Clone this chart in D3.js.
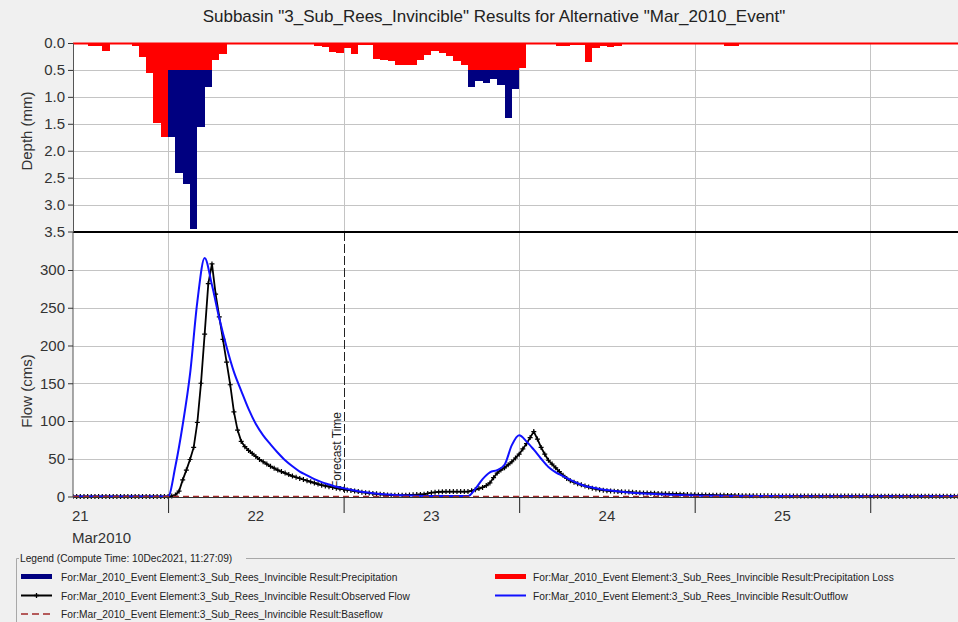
<!DOCTYPE html>
<html><head><meta charset="utf-8">
<script src="https://cdn.jsdelivr.net/npm/d3@7"></script>
<style>
body{margin:0;background:#f0f0f0;}
svg{display:block;}
text{font-family:"Liberation Sans",Arial,sans-serif;}
</style>
</head><body>
<svg id="c" width="958" height="622"></svg>
<script>
// ---------------- DATA ----------------
const startTime = "2010-03-21T11:00:00Z";
const endTime   = "2010-03-26T12:00:00Z";
const forecastTime = "2010-03-23T00:00:00Z";

// Hourly series start at 21 Mar 2010 11:00
// Precipitation (mm per hour, total)
const precipitation = [
  0, 0.02, 0.06, 0.06, 0.14, 0, 0, 0, 0.06, 0.26, 0.56, 1.48, 1.75,
  1.75, 2.42, 2.62, 3.45, 1.56, 0.81, 0.31, 0.2, 0, 0, 0, 0,
  0, 0, 0, 0, 0, 0.01, 0.02, 0.02, 0.06, 0.08, 0.16, 0.18,
  0.09, 0.2, 0.04, 0.04, 0.3, 0.32, 0.34, 0.4, 0.4, 0.4, 0.32, 0.22,
  0.14, 0.18, 0.25, 0.34, 0.41, 0.82, 0.71, 0.74, 0.66, 0.78, 1.39, 0.85,
  0.47, 0.01, 0.01, 0.01, 0.01, 0.05, 0.05, 0.03, 0.03, 0.36, 0.09, 0.05,
  0.08, 0.05, 0.02, 0, 0, 0, 0, 0, 0, 0, 0, 0,
  0, 0, 0, 0, 0.06, 0.06, 0.02, 0.02, 0, 0, 0, 0,
  0, 0, 0, 0, 0, 0, 0, 0, 0, 0, 0, 0,
  0, 0, 0, 0, 0, 0, 0, 0, 0, 0, 0, 0,
  0
];
// Precipitation loss (mm per hour)
const precipLoss = [
  0, 0.02, 0.06, 0.06, 0.14, 0, 0, 0, 0.06, 0.26, 0.56, 1.48, 1.75,
  0.5, 0.5, 0.5, 0.5, 0.5, 0.5, 0.31, 0.2, 0, 0, 0, 0,
  0, 0, 0, 0, 0, 0.01, 0.02, 0.02, 0.06, 0.08, 0.16, 0.18,
  0.09, 0.2, 0.04, 0.04, 0.3, 0.32, 0.34, 0.4, 0.4, 0.4, 0.32, 0.22,
  0.14, 0.18, 0.25, 0.34, 0.41, 0.5, 0.5, 0.5, 0.5, 0.5, 0.5, 0.5,
  0.47, 0.01, 0.01, 0.01, 0.01, 0.05, 0.05, 0.03, 0.03, 0.36, 0.09, 0.05,
  0.08, 0.05, 0.02, 0, 0, 0, 0, 0, 0, 0, 0, 0,
  0, 0, 0, 0, 0.06, 0.06, 0.02, 0.02, 0, 0, 0, 0,
  0, 0, 0, 0, 0, 0, 0, 0, 0, 0, 0, 0,
  0, 0, 0, 0, 0, 0, 0, 0, 0, 0, 0, 0,
  0
];
// Simulated outflow (cms), hourly
const outflow = [
  0, 0, 0, 0, 0, 0, 0, 0, 0, 0, 0, 0, 0,
  0, 40, 95, 162, 258, 316, 280, 236, 198, 165, 140, 116,
  96, 81, 69, 58, 48, 40, 33, 28, 23, 19, 16, 13,
  11, 9, 7, 5.5, 4.2, 3.3, 2.6, 2, 1.6, 1.3, 1, 0.8,
  0.7, 0.6, 0.5, 0.5, 0.5, 0.5, 10, 23, 32, 35, 42, 68,
  81, 73, 62, 50, 39, 32, 27, 22, 17.5, 14, 12, 10,
  8.5, 7.2, 6.2, 5.4, 4.6, 4, 3.5, 3, 2.5, 2.2, 1.9, 1.6,
  1.3, 1.1, 1, 0.9, 0.8, 0.7, 0.7, 0.6, 0.6, 0.5, 0.5, 0.5,
  0.5, 0.5, 0.4, 0.4, 0.4, 0.4, 0.4, 0.4, 0.3, 0.3, 0.3, 0.3,
  0.3, 0.3, 0.3, 0.3, 0.3, 0.3, 0.3, 0.3, 0.3, 0.3, 0.3, 0.3,
  0.3
];
// Observed flow (cms), every 30 minutes from 21 Mar 2010 11:00
const observedFlow = [
  0, 0, 0, 0, 0, 0, 0, 0, 0, 0, 0, 0, 0,
  0, 0, 0, 0, 0, 0, 0, 0, 0, 0, 0, 0, 0,
  0, 0.5, 2, 7, 22, 35, 49, 65, 98, 150, 215, 282,
  308, 268, 238, 208, 178, 148, 112, 88, 73, 66, 61, 57,
  53, 49, 46, 43, 40, 37.5, 35, 33, 31, 29, 27, 25.5,
  24, 22.5, 21, 19.5, 18, 16.5, 15, 14, 13, 12, 11, 10.2,
  9.5, 8.7, 8, 7.2, 6.5, 5.7, 5, 4.5, 4, 3.5, 3, 2.5,
  2, 1.7, 1.5, 1.5, 1.5, 1.7, 2, 2.2, 2.5, 2.8, 3, 4,
  5, 5.6, 6, 6.3, 6.5, 6.5, 6.5, 6.5, 6.5, 6.5, 6.5, 7.5,
  9, 10.5, 12, 14.5, 18, 25, 31, 35, 38, 42, 46, 51,
  56, 63, 70, 78, 86, 76, 65, 56, 48, 43, 38, 33,
  28, 24, 21, 19, 17, 15.5, 14, 12.5, 11, 10, 9, 8.3,
  7.7, 7.3, 7, 6.6, 6.3, 6, 5.8, 5.5, 5.2, 5, 4.8, 4.6,
  4.4, 4.2, 4, 3.8, 3.7, 3.5, 3.3, 3.1, 3, 2.8, 2.6, 2.4,
  2.3, 2.1, 2, 1.9, 1.8, 1.7, 1.6, 1.5, 1.5, 1.4, 1.4, 1.3,
  1.2, 1.1, 1.1, 1, 1, 0.95, 0.9, 0.9, 0.85, 0.85, 0.8, 0.8,
  0.8, 0.75, 0.75, 0.7, 0.7, 0.7, 0.65, 0.65, 0.6, 0.6, 0.6, 0.6,
  0.55, 0.55, 0.55, 0.55, 0.55, 0.55, 0.5, 0.5, 0.5, 0.5, 0.5, 0.5,
  0.45, 0.45, 0.45, 0.45, 0.45, 0.45, 0.4, 0.4, 0.4, 0.4, 0.4, 0.4,
  0.35, 0.35, 0.35, 0.35, 0.35, 0.35, 0.3, 0.3, 0.3, 0.3, 0.3, 0.3,
  0.3
];
// Baseflow (cms) at series start / end
const baseflowTimes = ["2010-03-21T11:00:00Z", "2010-03-26T12:00:00Z"];
const baseflow = [0, 0];

const depthTicks = [0, 0.5, 1.0, 1.5, 2.0, 2.5, 3.0, 3.5];
const flowTicks = [0, 50, 100, 150, 200, 250, 300];
const dayLabels = ["21", "22", "23", "24", "25"];
const monthLabel = "Mar2010";

const titleText = 'Subbasin "3_Sub_Rees_Invincible" Results for Alternative "Mar_2010_Event"';
const legendTitle = "Legend (Compute Time: 10Dec2021, 11:27:09)";
const legendItems = [
  {key:"precip",   label:"For:Mar_2010_Event Element:3_Sub_Rees_Invincible Result:Precipitation"},
  {key:"loss",     label:"For:Mar_2010_Event Element:3_Sub_Rees_Invincible Result:Precipitation Loss"},
  {key:"observed", label:"For:Mar_2010_Event Element:3_Sub_Rees_Invincible Result:Observed Flow"},
  {key:"outflow",  label:"For:Mar_2010_Event Element:3_Sub_Rees_Invincible Result:Outflow"},
  {key:"baseflow", label:"For:Mar_2010_Event Element:3_Sub_Rees_Invincible Result:Baseflow"}
];

// ---------------- STYLE / LAYOUT ----------------
const W = 958, H = 622;
const L = 73, R = 958, TOP = 43, MID = 232, BOT = 497;
const C = {navy:"#000080", red:"#ff0000", blue:"#1010ff", black:"#000000", base:"#a02828", grid:"#c4c4c4", bg:"#f0f0f0"};
const FONT = '"Liberation Sans",Arial,sans-serif';

const svg = d3.select("#c");
svg.append("rect").attr("width", W).attr("height", H).attr("fill", C.bg);

const hour = 3600e3;
const t0 = new Date(startTime);
const times = precipitation.map((_, i) => new Date(t0.getTime() + i * hour));
const obsTimes = observedFlow.map((_, i) => new Date(t0.getTime() + i * hour / 2));

const x = d3.scaleUtc().domain([new Date(startTime), new Date(endTime)]).range([L, R]);
const yD = d3.scaleLinear().domain([0, 3.5]).range([TOP, 231.5]);
const yF = d3.scaleLinear().domain([0, 300]).range([496.5, 270]);

const defs = svg.append("defs");
defs.append("clipPath").attr("id", "clipTop").append("rect").attr("x", L).attr("y", TOP - 2).attr("width", R - L).attr("height", MID - TOP + 2);
defs.append("clipPath").attr("id", "clipBot").append("rect").attr("x", L).attr("y", MID).attr("width", R - L).attr("height", BOT - MID + 3);

svg.append("rect").attr("x", L).attr("y", TOP).attr("width", R - L).attr("height", BOT - TOP).attr("fill", "#ffffff");

const days = d3.utcDay.range(new Date(startTime), new Date(endTime));
const fcT = new Date(forecastTime);

// grid - top panel
const gTop = svg.append("g");
gTop.selectAll(".hg").data(depthTicks.filter(d => d > 0 && d < 3.5)).join("line")
  .attr("x1", L).attr("x2", R).attr("y1", d => Math.round(yD(d)) + 0.5).attr("y2", d => Math.round(yD(d)) + 0.5)
  .attr("stroke", C.grid).attr("stroke-width", 1);
gTop.selectAll(".vg").data(days).join("line")
  .attr("x1", d => Math.round(x(d)) + 0.5).attr("x2", d => Math.round(x(d)) + 0.5).attr("y1", TOP).attr("y2", MID)
  .attr("stroke", C.grid).attr("stroke-width", 1);

// grid - flow panel
const gBot = svg.append("g");
gBot.selectAll(".hg").data(flowTicks.filter(d => d > 0)).join("line")
  .attr("x1", L).attr("x2", R).attr("y1", d => Math.round(yF(d)) + 0.5).attr("y2", d => Math.round(yF(d)) + 0.5)
  .attr("stroke", C.grid).attr("stroke-width", 1);
gBot.selectAll(".vg").data(days.filter(d => +d !== +fcT)).join("line")
  .attr("x1", d => Math.round(x(d)) + 0.5).attr("x2", d => Math.round(x(d)) + 0.5).attr("y1", MID).attr("y2", BOT)
  .attr("stroke", C.grid).attr("stroke-width", 1);

// forecast time line
gBot.append("line")
  .attr("x1", Math.round(x(fcT)) + 0.5).attr("x2", Math.round(x(fcT)) + 0.5).attr("y1", MID).attr("y2", BOT)
  .attr("stroke", "#222").attr("stroke-width", 1).attr("stroke-dasharray", "9,3");
gBot.append("text")
  .attr("transform", `translate(${x(fcT) - 3},488) rotate(-90)`)
  .attr("font-size", 12).attr("fill", "#222").text("Forecast Time");

// bars
const bars = svg.append("g").attr("clip-path", "url(#clipTop)");
const idx = d3.range(precipitation.length);
bars.selectAll(".p").data(idx.filter(i => precipitation[i] > precipLoss[i])).join("rect")
  .attr("x", i => x(times[i])).attr("width", i => x(new Date(times[i].getTime() + hour)) - x(times[i]))
  .attr("y", yD(0)).attr("height", i => yD(precipitation[i]) - yD(0))
  .attr("fill", C.navy).attr("shape-rendering", "crispEdges");
bars.selectAll(".l").data(idx.filter(i => precipLoss[i] > 0)).join("rect")
  .attr("x", i => x(times[i])).attr("width", i => x(new Date(times[i].getTime() + hour)) - x(times[i]))
  .attr("y", yD(0)).attr("height", i => yD(precipLoss[i]) - yD(0))
  .attr("fill", C.red).attr("shape-rendering", "crispEdges");
bars.append("line").attr("x1", L).attr("x2", R).attr("y1", yD(0) + 0.5).attr("y2", yD(0) + 0.5)
  .attr("stroke", C.red).attr("stroke-width", 2);

// flow lines
const lines = svg.append("g").attr("clip-path", "url(#clipBot)");
const obsLine = d3.line().x((d, i) => x(obsTimes[i])).y(d => yF(d));
lines.append("path").datum(observedFlow).attr("d", obsLine)
  .attr("fill", "none").attr("stroke", C.black).attr("stroke-width", 1.8);
lines.selectAll(".mk").data(observedFlow).join("path")
  .attr("transform", (d, i) => `translate(${x(obsTimes[i])},${yF(d)})`)
  .attr("d", "M-2.5,0H2.5M0,-2.5V2.5")
  .attr("stroke", C.black).attr("stroke-width", 1.2).attr("fill", "none");
const outLine = d3.line().x((d, i) => x(times[i])).y(d => yF(d)).curve(d3.curveMonotoneX);
lines.append("path").datum(outflow).attr("d", outLine)
  .attr("fill", "none").attr("stroke", C.blue).attr("stroke-width", 2);
const baseLine = d3.line().x((d, i) => x(new Date(baseflowTimes[i]))).y(d => yF(d));
lines.append("path").datum(baseflow).attr("d", baseLine)
  .attr("fill", "none").attr("stroke", C.base).attr("stroke-width", 1.5).attr("stroke-dasharray", "6,4");

// panel separator
svg.append("line").attr("x1", L).attr("x2", R).attr("y1", MID).attr("y2", MID)
  .attr("stroke", "#000").attr("stroke-width", 2);

// axes
function styleAxis(g) {
  g.selectAll("path.domain").attr("stroke", "#555");
  g.selectAll(".tick line").attr("stroke", "#333");
  g.selectAll(".tick text").attr("font-family", FONT).attr("font-size", 15).attr("fill", "#333");
}
const axD = svg.append("g").attr("transform", `translate(${L},0)`)
  .call(d3.axisLeft(yD).tickValues(depthTicks).tickFormat(d3.format(".1f")).tickSize(5).tickPadding(3).tickSizeOuter(0));
styleAxis(axD);
const axF = svg.append("g").attr("transform", `translate(${L},0)`)
  .call(d3.axisLeft(yF).tickValues(flowTicks).tickSize(5).tickPadding(3).tickSizeOuter(0));
styleAxis(axF);
axF.select("path.domain").attr("d", `M-0,${MID}V${BOT}`);

const axX = svg.append("g").attr("transform", `translate(0,${BOT})`)
  .call(d3.axisBottom(x).tickValues(days).tickFormat("").tickSize(16).tickSizeOuter(0));
axX.selectAll(".tick line").attr("stroke", "#222");
axX.select("path.domain").attr("stroke", "#333");

const noons = dayLabels.map((d, i) => new Date(Date.UTC(2010, 2, 21 + i, 12)));
svg.append("g").selectAll("text").data(dayLabels).join("text")
  .attr("x", (d, i) => x(noons[i])).attr("y", 521).attr("text-anchor", "middle")
  .attr("font-size", 15).attr("fill", "#333").text(d => d);
svg.append("text").attr("x", 72).attr("y", 543).attr("font-size", 15).attr("fill", "#333").text(monthLabel);

// axis titles
svg.append("text").attr("transform", "translate(32,131) rotate(-90)").attr("text-anchor", "middle")
  .attr("font-size", 15).attr("fill", "#333").text("Depth (mm)");
svg.append("text").attr("transform", "translate(32,391) rotate(-90)").attr("text-anchor", "middle")
  .attr("font-size", 15).attr("fill", "#333").text("Flow (cms)");

// title
svg.append("text").attr("x", 494).attr("y", 22).attr("text-anchor", "middle")
  .attr("font-size", 17).attr("fill", "#222").text(titleText);

// legend
const lg = svg.append("g");
lg.append("path").attr("d", "M16.5,622V558.5H19M246,558.5H955")
  .attr("fill", "none").attr("stroke", "#a8a8a8").attr("stroke-width", 1);
lg.append("text").attr("x", 20).attr("y", 562).attr("font-size", 10.2).attr("fill", "#222").text(legendTitle);
const pos = {
  precip:   {sx: 21, ty: 577},
  loss:     {sx: 495, ty: 577},
  observed: {sx: 21, ty: 595.5},
  outflow:  {sx: 495, ty: 595.5},
  baseflow: {sx: 21, ty: 614}
};
legendItems.forEach(it => {
  const p = pos[it.key];
  const g = lg.append("g");
  const x1 = p.sx, x2 = p.sx + 31;
  if (it.key === "precip" || it.key === "loss") {
    g.append("rect").attr("x", x1).attr("y", p.ty - 3).attr("width", 31).attr("height", 5)
      .attr("fill", it.key === "precip" ? C.navy : C.red);
  } else if (it.key === "observed") {
    g.append("line").attr("x1", x1).attr("x2", x2).attr("y1", p.ty).attr("y2", p.ty).attr("stroke", C.black).attr("stroke-width", 2);
    g.append("path").attr("transform", `translate(${(x1 + x2) / 2},${p.ty})`).attr("d", "M-2.5,0H2.5M0,-2.5V2.5")
      .attr("stroke", C.black).attr("stroke-width", 1.3);
  } else if (it.key === "outflow") {
    g.append("line").attr("x1", x1).attr("x2", x2).attr("y1", p.ty).attr("y2", p.ty).attr("stroke", C.blue).attr("stroke-width", 2);
  } else {
    g.append("line").attr("x1", x1).attr("x2", x2).attr("y1", p.ty).attr("y2", p.ty).attr("stroke", C.base).attr("stroke-width", 1.5).attr("stroke-dasharray", "7,4");
  }
  g.append("text").attr("x", it.key === "loss" || it.key === "outflow" ? 533 : 61).attr("y", p.ty + 4)
    .attr("font-size", 10.2).attr("fill", "#222").text(it.label);
});
</script>
</body></html>
